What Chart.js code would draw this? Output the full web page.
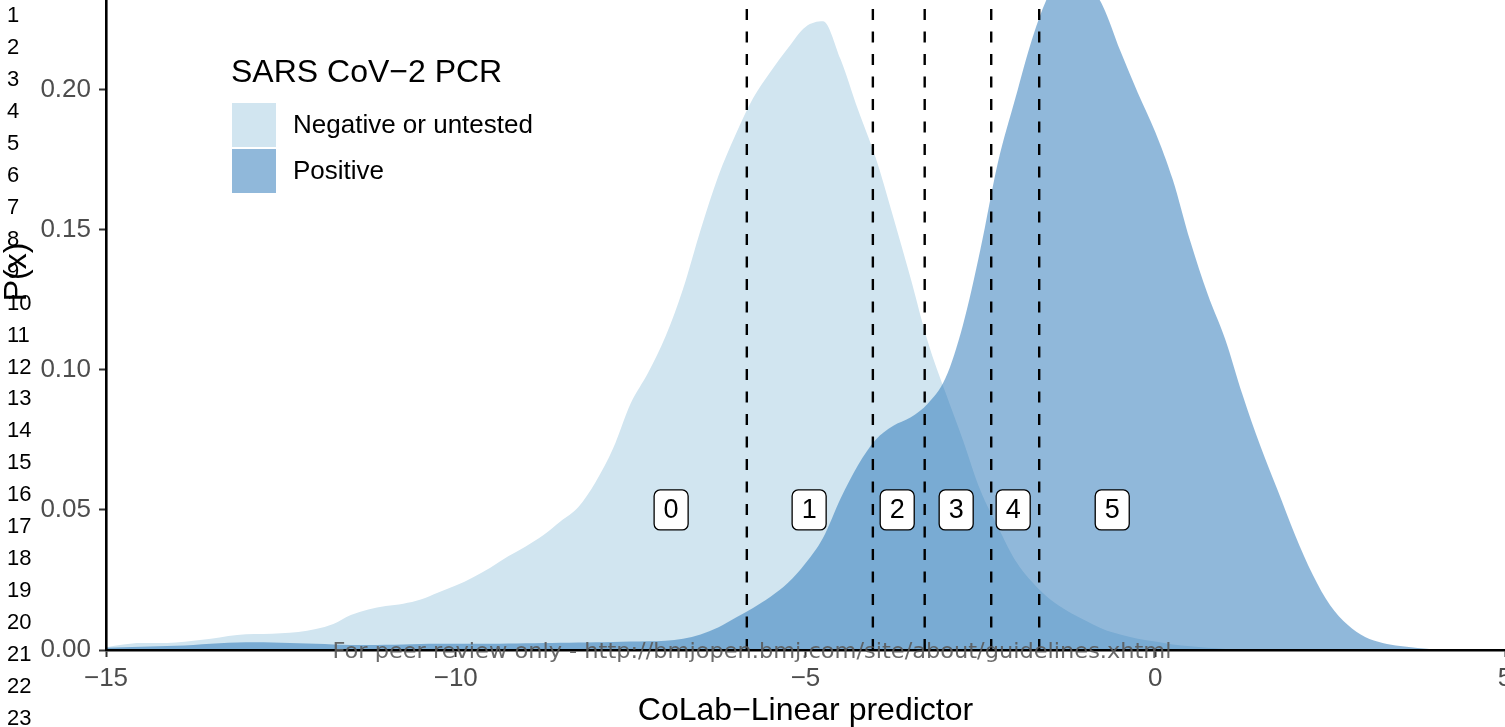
<!DOCTYPE html>
<html>
<head>
<meta charset="utf-8">
<script src="https://cdn.jsdelivr.net/npm/chart.js@4/dist/chart.umd.min.js"></script>
<style>
  html, body { margin: 0; padding: 0; background: #ffffff; overflow: hidden; }
  canvas { display: block; }
</style>
</head>
<body>
<canvas id="chart" width="1505" height="727"></canvas>
<script>
// Grid of the CoLab linear predictor where the densities are evaluated
const predictor = [
  -15, -14.75, -14.5, -14.25, -14, -13.75, -13.5, -13.25, -13, -12.75,
  -12.5, -12.25, -12, -11.75, -11.5, -11.25, -11, -10.75, -10.5, -10.25,
  -10, -9.75, -9.5, -9.25, -9, -8.75, -8.5, -8.25, -8, -7.75,
  -7.5, -7.25, -7, -6.75, -6.5, -6.25, -6, -5.75, -5.5, -5.25,
  -5, -4.75, -4.5, -4.25, -4, -3.75, -3.5, -3.25, -3, -2.75,
  -2.5, -2.25, -2, -1.75, -1.5, -1.25, -1, -0.75, -0.5, -0.25,
  0, 0.25, 0.5, 0.75, 1, 1.25, 1.5, 1.75, 2, 2.25,
  2.5, 2.75, 3, 3.25, 3.5, 3.75, 4, 4.25, 4.5, 4.75, 5
];

// Density, SARS CoV-2 PCR negative or untested
const densNegative = [
  0.0010, 0.0020, 0.0025, 0.0025, 0.0027, 0.0033, 0.0040, 0.0050, 0.0056, 0.0057,
  0.0060, 0.0064, 0.0075, 0.0093, 0.0125, 0.0145, 0.0157, 0.0165, 0.0180, 0.0205,
  0.0230, 0.0260, 0.0295, 0.0335, 0.0370, 0.0410, 0.0460, 0.0510, 0.0600, 0.0720,
  0.0880, 0.0990, 0.1120, 0.1290, 0.1500, 0.1690, 0.1840, 0.1970, 0.2065, 0.2150,
  0.2225, 0.2245, 0.2110, 0.1930, 0.1760, 0.1550, 0.1330, 0.1100, 0.0920, 0.0750,
  0.0570, 0.0440, 0.0320, 0.0240, 0.0180, 0.0138, 0.0105, 0.0075, 0.0055, 0.0040,
  0.0030, 0.0020, 0.0013, 0.0008, 0.0004, 0.0002, 0, 0, 0, 0,
  0, 0, 0, 0, 0, 0, 0, 0, 0, 0, 0
];

// Density, SARS CoV-2 PCR positive
const densPositive = [
  0.0008, 0.0010, 0.0012, 0.0013, 0.0015, 0.0018, 0.0022, 0.0026, 0.0028, 0.0028,
  0.0026, 0.0024, 0.0022, 0.0020, 0.0018, 0.0018, 0.0019, 0.0020, 0.0021, 0.0022,
  0.0022, 0.0022, 0.0022, 0.0023, 0.0024, 0.0025, 0.0026, 0.0027, 0.0028, 0.0029,
  0.0030, 0.0031, 0.0033, 0.0040, 0.0055, 0.0080, 0.0115, 0.0150, 0.0190, 0.0240,
  0.0310, 0.0400, 0.0540, 0.0660, 0.0750, 0.0800, 0.0830, 0.0880, 0.0970, 0.1160,
  0.1430, 0.1740, 0.1970, 0.2190, 0.2350, 0.2420, 0.2390, 0.2300, 0.2140, 0.1990,
  0.1850, 0.1680, 0.1460, 0.1270, 0.1110, 0.0910, 0.0730, 0.0570, 0.0410, 0.0270,
  0.0160, 0.0090, 0.0046, 0.0025, 0.0014, 0.0007, 0.0002, 0, 0, 0, 0
];

// Score cut-offs on the linear predictor and the score labels between them
const cutoffs = [-5.839, -4.037, -3.296, -2.345, -1.659];
const scoreLabels = ['0', '1', '2', '3', '4', '5'];
const scoreLabelX = [-6.921, -4.948, -3.689, -2.846, -2.031, -0.615];
const scoreLabelY = 0.05;

const seriesNames = ['Negative or untested', 'Positive'];
const legendTitle = 'SARS CoV\u22122 PCR';
const xTitle = 'CoLab\u2212Linear predictor';
const yTitle = 'P(x)';
const xTicks = [-15, -10, -5, 0, 5];
const yTicks = [0, 0.05, 0.10, 0.15, 0.20];
const xRange = [-15, 5];
const yRange = [0, 0.2321];
const lineNumbers = ['1','2','3','4','5','6','7','8','9','10','11','12','13','14','15','16','17','18','19','20','21','22','23'];
const footerNote = 'For peer review only - http://bmjopen.bmj.com/site/about/guidelines.xhtml';

const FONT = "'Liberation Sans', Arial, Helvetica, sans-serif";
const NEG_FILL = '#d1e5f0';
const POS_FILL = 'rgba(33, 113, 181, 0.5)';

const toPoints = vals => predictor.map((x, i) => ({ x: x, y: vals[i] }));
const minus = s => String(s).replace('-', '\u2212');

const cutoffSets = cutoffs.map(c => ({
  label: '',
  data: [{ x: c, y: yRange[0] }, { x: c, y: yRange[1] }],
  borderColor: '#000000',
  borderWidth: 2.4,
  borderDash: [11, 11.5],
  pointRadius: 0,
  fill: false,
  order: 0
}));

// Page decorations: margin line numbers, y title, legend, score labels, footer
const decor = {
  id: 'decor',
  afterDraw(chart) {
    const ctx = chart.ctx;
    const xs = chart.scales.x, ys = chart.scales.y;
    ctx.save();

    // margin line numbers
    ctx.fillStyle = '#000000';
    ctx.font = '22px ' + FONT;
    ctx.textAlign = 'left';
    ctx.textBaseline = 'middle';
    lineNumbers.forEach((t, i) => ctx.fillText(t, 7, 16 + i * 31.95));

    // y axis title
    ctx.save();
    ctx.translate(17, 272);
    ctx.rotate(-Math.PI / 2);
    ctx.font = '32px ' + FONT;
    ctx.textAlign = 'center';
    ctx.textBaseline = 'middle';
    ctx.fillText(yTitle, 0, 0);
    ctx.restore();

    // legend
    ctx.font = '32px ' + FONT;
    ctx.textAlign = 'left';
    ctx.textBaseline = 'middle';
    ctx.fillText(legendTitle, 231, 73);
    const fills = [NEG_FILL, POS_FILL];
    ctx.font = '26px ' + FONT;
    seriesNames.forEach((name, i) => {
      const top = 103 + i * 46;
      ctx.fillStyle = '#ffffff';
      ctx.fillRect(232, top, 44, 44);
      ctx.fillStyle = fills[i];
      ctx.fillRect(232, top, 44, 44);
      ctx.fillStyle = '#000000';
      ctx.fillText(name, 293, top + 23);
    });

    // score labels
    ctx.font = '27px ' + FONT;
    ctx.textAlign = 'center';
    ctx.textBaseline = 'middle';
    scoreLabels.forEach((t, i) => {
      const px = xs.getPixelForValue(scoreLabelX[i]);
      const py = ys.getPixelForValue(scoreLabelY);
      const w = ctx.measureText(t).width + 19, h = 40;
      ctx.beginPath();
      ctx.roundRect(px - w / 2, py - h / 2, w, h, 6);
      ctx.fillStyle = '#ffffff';
      ctx.fill();
      ctx.lineWidth = 1.3;
      ctx.strokeStyle = '#000000';
      ctx.stroke();
      ctx.fillStyle = '#000000';
      ctx.fillText(t, px, py + 1);
    });

    // footer note
    ctx.font = "22px 'Liberation Sans Narrow', 'DejaVu Sans Condensed', " + FONT;
    const tw = ctx.measureText(footerNote).width;
    ctx.save();
    ctx.translate(752, 652);
    ctx.scale(839 / tw, 1);
    ctx.fillStyle = 'rgba(90, 90, 90, 0.9)';
    ctx.textAlign = 'center';
    ctx.textBaseline = 'middle';
    ctx.fillText(footerNote, 0, 0);
    ctx.restore();

    ctx.restore();
  }
};

new Chart(document.getElementById('chart'), {
  type: 'line',
  data: {
    datasets: [
      {
        label: seriesNames[0],
        data: toPoints(densNegative),
        backgroundColor: NEG_FILL,
        borderColor: 'rgba(0,0,0,0)',
        borderWidth: 0,
        pointRadius: 0,
        fill: 'origin',
        cubicInterpolationMode: 'monotone',
        order: 2
      },
      {
        label: seriesNames[1],
        data: toPoints(densPositive),
        backgroundColor: POS_FILL,
        borderColor: 'rgba(0,0,0,0)',
        borderWidth: 0,
        pointRadius: 0,
        fill: 'origin',
        cubicInterpolationMode: 'monotone',
        order: 1
      },
      ...cutoffSets
    ]
  },
  options: {
    responsive: false,
    animation: false,
    devicePixelRatio: 1,
    layout: { padding: 0 },
    plugins: {
      legend: { display: false },
      tooltip: { enabled: false },
      title: { display: false }
    },
    scales: {
      x: {
        type: 'linear',
        min: xRange[0],
        max: xRange[1],
        afterBuildTicks: s => { s.ticks = xTicks.map(v => ({ value: v })); },
        afterFit: s => { s.height = 77; s.paddingLeft = 0; s.paddingRight = 0; },
        ticks: {
          callback: v => minus(v),
          font: { family: FONT, size: 26 },
          color: '#4d4d4d',
          padding: 6,
          maxRotation: 0,
          autoSkip: false
        },
        grid: {
          display: true,
          drawOnChartArea: false,
          drawTicks: true,
          tickLength: 7,
          tickWidth: 2,
          tickColor: '#333333'
        },
        border: { display: true, color: '#000000', width: 2.6, z: 1 },
        title: {
          display: true,
          text: xTitle,
          color: '#000000',
          font: { family: FONT, size: 32, lineHeight: 1 },
          padding: 0
        }
      },
      y: {
        type: 'linear',
        min: yRange[0],
        max: yRange[1],
        afterBuildTicks: s => { s.ticks = yTicks.map(v => ({ value: v })); },
        afterFit: s => { s.width = 106; s.paddingTop = 0; s.paddingBottom = 0; },
        ticks: {
          callback: v => v.toFixed(2),
          font: { family: FONT, size: 26 },
          color: '#4d4d4d',
          padding: 8
        },
        grid: {
          display: true,
          drawOnChartArea: false,
          drawTicks: true,
          tickLength: 7,
          tickWidth: 2,
          tickColor: '#333333'
        },
        border: { display: true, color: '#000000', width: 2.6, z: 1 }
      }
    }
  },
  plugins: [decor]
});
</script>
</body>
</html>
